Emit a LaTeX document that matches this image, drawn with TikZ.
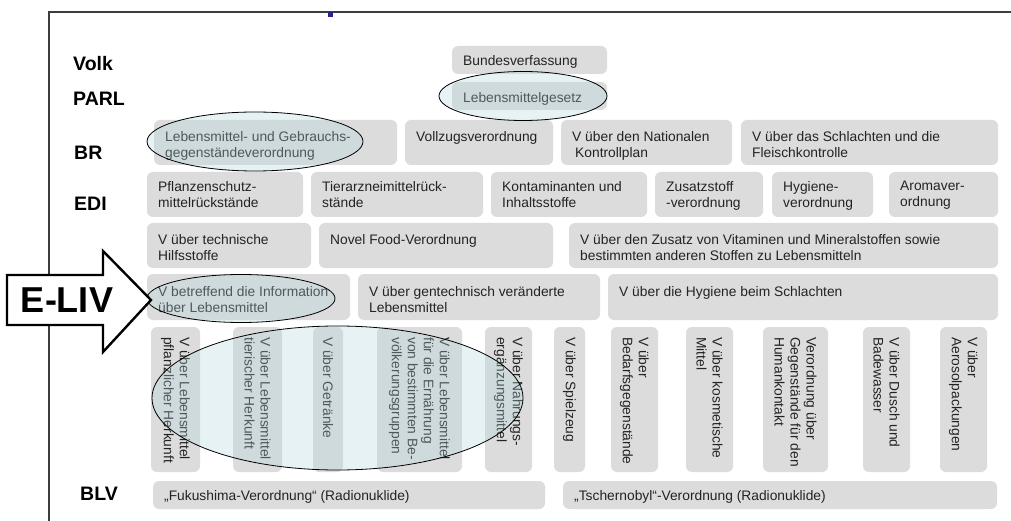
\documentclass[tikz,border=0pt]{standalone}
\usepackage{fontspec}
\setmainfont{Liberation Sans}
\usetikzlibrary{calc}

\definecolor{boxgray}{RGB}{220,220,220}
\definecolor{boxtext}{RGB}{35,35,35}
\definecolor{ringfill}{RGB}{178,215,222}
\definecolor{framegray}{RGB}{60,60,60}
\definecolor{titleblue}{RGB}{40,40,130}

\tikzset{
  box/.style={rectangle, fill=boxgray, rounded corners=6pt, inner sep=0pt, outer sep=0pt},
  boxtxt/.style={text=boxtext, font=\fontsize{13.8}{16}\selectfont, align=left, inner sep=0pt, anchor=north west},
  vtxt/.style={text=boxtext, font=\fontsize{13.8}{16}\selectfont, align=left, inner sep=0pt, rotate=-90, anchor=west},
  level/.style={font=\fontsize{19.5}{20}\selectfont\bfseries, anchor=west, inner sep=0pt},
  ring/.style={draw=black, line width=0.8pt, fill=ringfill, fill opacity=0.3},
  bigarrow/.style={draw=black, line width=2.4pt, fill=white, line join=miter},
}

% regbox{name}{x1}{y1}{x2}{y2}{text offset}{text}
\newcommand\regbox[7]{%
  \node[box, anchor=north west, minimum width={(#4-#2)*1pt}, minimum height={(#5-#3)*1pt}] (#1) at (#2,#3) {};
  \node[boxtxt] (#1t) at ($(#1.north west)+(11,#6)$) {#7};
}
% vertbox{name}{x1}{x2}{text}
\newcommand\vertbox[4]{%
  \node[box, anchor=north west, minimum width={(#3-#2)*1pt}, minimum height=145pt] (#1) at (#2,327) {};
  \node[vtxt] (#1t) at ($(#1.north)+(0,10)$) {#4};
}

\begin{document}
\begin{tikzpicture}[x=1pt,y=-1pt]
\fill[white] (0,0) rectangle (1011,521);
\useasboundingbox (0,0) rectangle (1011,521);

% frame
\draw[framegray, line width=1.3pt] (1011,12) -- (49,12) -- (49,521);
\fill[titleblue] (328,12) rectangle (333,17);

% level labels
\node[level] (volk) at (73,64) {Volk};
\node[level] (parl) at (73,99) {PARL};
\node[level] (br)   at (74,153) {BR};
\node[level] (edi)  at (74,204) {EDI};
\node[level] (blv)  at (80,494) {BLV};

% constitution and law
\regbox{bund}{452}{46}{607}{74}{9}{Bundesverfassung}
\regbox{lmg}{452}{82}{607}{110}{10}{Lebensmittelgesetz}

% federal council
\regbox{lgv}{154}{120}{397}{165}{11}{Lebensmittel- und Gebrauchs-\\gegenständeverordnung}
\regbox{vzv}{405}{120}{553}{165}{11}{Vollzugsverordnung}
\regbox{nkp}{561}{120}{732}{165}{11}{V über den Nationalen\\\hspace*{3pt}Kontrollplan}
\regbox{sfk}{741}{120}{998}{165}{11}{V über das Schlachten und die\\Fleischkontrolle}

% department
\regbox{pfl}{147}{172}{303}{217}{9}{Pflanzenschutz-\\mittelrückstände}
\regbox{tam}{311}{172}{483}{217}{9}{Tierarzneimittelrück-\\stände}
\regbox{kon}{491}{172}{647}{217}{9}{Kontaminanten und\\Inhaltsstoffe}
\regbox{zus}{655}{172}{763}{217}{9}{Zusatzstoff\\-verordnung}
\regbox{hyg}{772}{172}{873}{217}{9}{Hygiene-\\verordnung}
\regbox{aro}{889}{172}{998}{217}{9}{Aromaver-\\ordnung}

\regbox{ths}{147}{223}{311}{268}{11}{V über technische\\Hilfsstoffe}
\regbox{nfv}{319}{223}{553}{268}{11}{Novel Food-Verordnung}
\regbox{vmz}{569}{223}{998}{268}{11}{V über den Zusatz von Vitaminen und Mineralstoffen sowie\\bestimmten anderen Stoffen zu Lebensmitteln}

\regbox{inf}{147}{274}{350}{320}{12}{V betreffend die Information\\über Lebensmittel}
\regbox{gvo}{358}{274}{600}{320}{12}{V über gentechnisch veränderte\\Lebensmittel}
\regbox{hbs}{608}{274}{998}{320}{12}{V über die Hygiene beim Schlachten}

% vertical columns
\vertbox{c1}{151}{200}{V über Lebensmittel\\pflanzlicher Herkunft}
\vertbox{c2}{233}{282}{V über Lebensmittel\\tierischer Herkunft}
\vertbox{c3}{313}{343}{V über Getränke}
\vertbox{c4}{377}{462}{V über Lebensmittel\\für die Ernährung\\von bestimmten Be-\\völkerungsgruppen}
\vertbox{c5}{485}{532}{V über Nahrungs-\\ergänzungsmittel}
\vertbox{c6}{554}{585}{V über Spielzeug}
\vertbox{c7}{611}{658}{V über\\Bedarfsgegenstände}
\vertbox{c8}{686}{733}{V über kosmetische\\Mittel}
\vertbox{c9}{763}{828}{Verordnung über\\Gegenstände für den\\Humankontakt}
\vertbox{c10}{863}{910}{V über Dusch und\\Badewasser}
\vertbox{c11}{940}{987}{V über\\Aerosolpackungen}

% BLV
\regbox{fuk}{153}{481}{545}{509}{9}{„Fukushima-Verordnung“ (Radionuklide)}
\regbox{tsch}{563}{481}{997}{509}{9}{„Tschernobyl“-Verordnung (Radionuklide)}

% highlight rings
\draw[ring] (523,96) ellipse [x radius=84, y radius=24.5];
\draw[ring] (255,141.5) ellipse [x radius=108, y radius=29.5];
\draw[ring] (241,298.5) ellipse [x radius=94, y radius=24];
\draw[ring] (337.5,398) ellipse [x radius=185.5, y radius=72];

% E-LIV pointer
\draw[bigarrow] (7,275) -- (103,275) -- (103,251) -- (151,300) -- (103,352) -- (103,325) -- (7,325) -- cycle;
\node[font=\fontsize{36}{36}\selectfont\bfseries, inner sep=0pt] (eliv) at (67,300) {E-LIV};
\end{tikzpicture}
\end{document}
